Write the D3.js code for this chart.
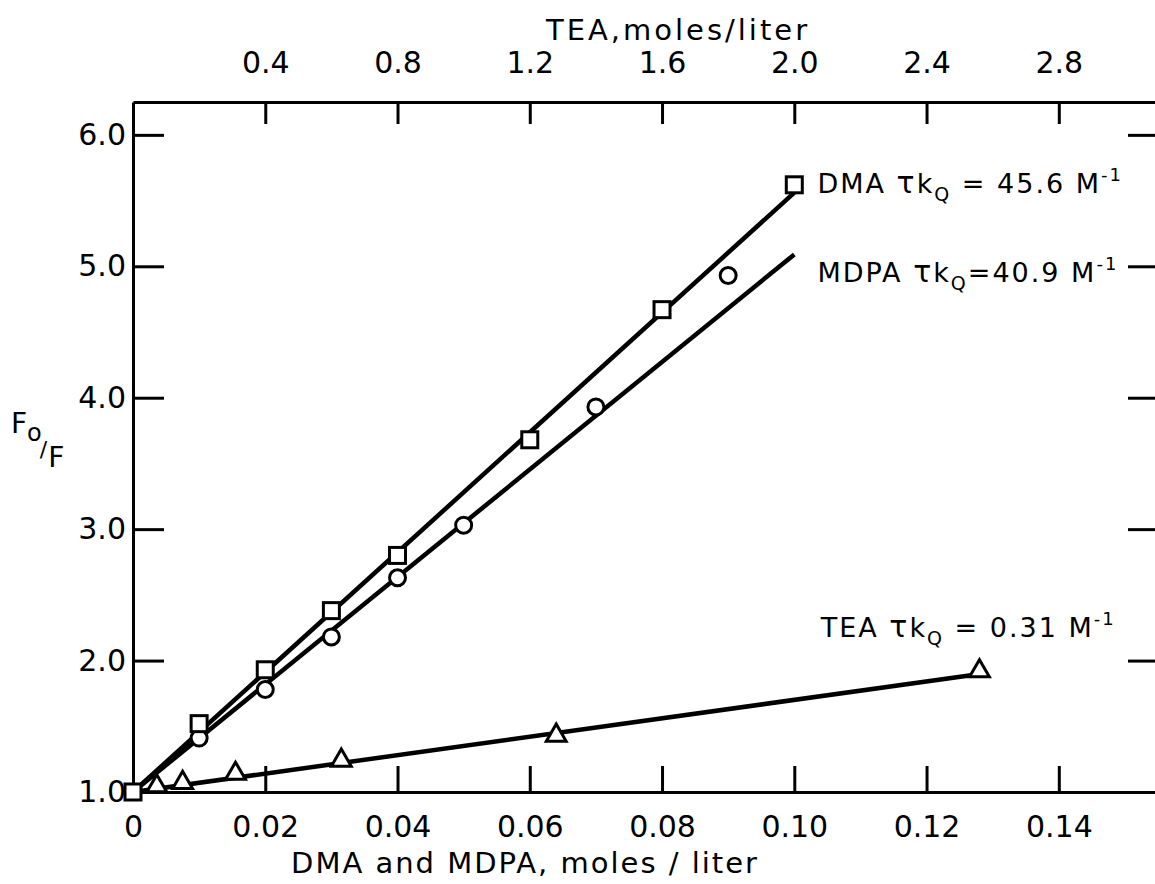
<!DOCTYPE html>
<html>
<head>
<meta charset="utf-8">
<script src="https://cdn.jsdelivr.net/npm/d3@7"></script>
<style>
  body { margin: 0; background: #fff; }
  svg { display: block; font-family: "DejaVu Sans", sans-serif; }
</style>
</head>
<body>
<svg width="1155" height="884"></svg>
<script>
// values
let dmaX = [0, 0.01, 0.02, 0.03, 0.04, 0.06, 0.08, 0.10];
let dmaY = [1.0, 1.52, 1.93, 2.38, 2.80, 3.68, 4.67, 5.62];
let mdpaX = [0.01, 0.02, 0.03, 0.04, 0.05, 0.07, 0.09];
let mdpaY = [1.41, 1.78, 2.18, 2.63, 3.03, 3.93, 4.93];
let teaX = [0.072, 0.15, 0.31, 0.63, 1.28, 2.56]; // TEA, moles/liter (top scale)
let teaY = [1.045, 1.07, 1.14, 1.24, 1.43, 1.92];

// fitted lines: [x0, y0, x1, y1]
let dmaFit = [0, 1.0, 0.10, 5.56];
let mdpaFit = [0, 1.0, 0.10, 5.09];
let teaFit = [0, 1.0, 2.54, 1.89];

let bottomTicks = [0, 0.02, 0.04, 0.06, 0.08, 0.10, 0.12, 0.14];
let topTicks = [0.4, 0.8, 1.2, 1.6, 2.0, 2.4, 2.8];
let yTicks = [1, 2, 3, 4, 5, 6];

let svg = d3.select("svg");

let x = d3.scaleLinear().domain([0, 0.155]).range([133, 1158]);
let xTop = d3.scaleLinear().domain([0, 3.1]).range([133, 1158]);
let y = d3.scaleLinear().domain([1, 6.25]).range([792, 102]);

// axes
svg.append("g")
  .attr("transform", `translate(0,${y(1)})`)
  .call(d3.axisBottom(x).tickValues(bottomTicks)
    .tickFormat((d) => (d === 0 ? "0" : d3.format(".2f")(d)))
    .tickSizeInner(-26).tickSizeOuter(0).tickPadding(24));

svg.append("g")
  .attr("transform", `translate(${x(0)},0)`)
  .call(d3.axisLeft(y).tickValues(yTicks).tickFormat(d3.format(".1f"))
    .tickSizeInner(-31).tickSizeOuter(0).tickPadding(7));

svg.append("g")
  .attr("transform", `translate(0,${y(6.25)})`)
  .call(d3.axisTop(xTop).tickValues(topTicks).tickFormat(d3.format(".1f"))
    .tickSizeInner(-22).tickSizeOuter(0).tickPadding(29));

svg.append("g")
  .attr("transform", `translate(${x(0.155)},0)`)
  .call(d3.axisRight(y).tickValues(yTicks.slice(1)).tickFormat("")
    .tickSizeInner(-30).tickSizeOuter(0));

svg.selectAll(".domain, .tick line")
  .attr("stroke", "#000").attr("stroke-width", 3);
svg.selectAll(".tick text")
  .attr("font-size", 30).attr("font-family", "DejaVu Sans").attr("fill", "#000");

// axis titles
svg.append("text")
  .attr("x", 525).attr("y", 873)
  .attr("text-anchor", "middle").attr("font-size", 29)
  .attr("letter-spacing", 2)
  .text("DMA and MDPA, moles / liter");

svg.append("text")
  .attr("x", 678).attr("y", 40)
  .attr("text-anchor", "middle").attr("font-size", 29)
  .attr("letter-spacing", 3)
  .text("TEA,moles/liter");

let ylab = svg.append("text").attr("x", 11).attr("y", 433).attr("font-size", 28);
ylab.append("tspan").text("F");
ylab.append("tspan").attr("font-size", 24).attr("dy", 8).text("o");
ylab.append("tspan").attr("font-size", 22).attr("dx", -2).attr("dy", 16).text("/");
ylab.append("tspan").attr("font-size", 28).attr("dx", 1).attr("dy", 10).text("F");

// fit lines
function fitLine(f, sx) {
  svg.append("line")
    .attr("x1", sx(f[0])).attr("y1", y(f[1]))
    .attr("x2", sx(f[2])).attr("y2", y(f[3]))
    .attr("stroke", "#000").attr("stroke-width", 4.5);
}
fitLine(dmaFit, x);
fitLine(mdpaFit, x);
fitLine(teaFit, xTop);

// markers
svg.append("g").selectAll("circle")
  .data(mdpaX.map((d, i) => [d, mdpaY[i]]))
  .enter().append("circle")
  .attr("cx", (d) => x(d[0])).attr("cy", (d) => y(d[1]))
  .attr("r", 8)
  .attr("fill", "#fff").attr("stroke", "#000").attr("stroke-width", 3);

svg.append("g").selectAll("rect")
  .data(dmaX.map((d, i) => [d, dmaY[i]]))
  .enter().append("rect")
  .attr("x", (d) => x(d[0]) - 8).attr("y", (d) => y(d[1]) - 8)
  .attr("width", 16).attr("height", 16)
  .attr("fill", "#fff").attr("stroke", "#000").attr("stroke-width", 3);

svg.append("g").selectAll("path")
  .data(teaX.map((d, i) => [d, teaY[i]]))
  .enter().append("path")
  .attr("d", d3.symbol(d3.symbolTriangle, 170))
  .attr("transform", (d) => `translate(${xTop(d[0])},${y(d[1])})`)
  .attr("fill", "#fff").attr("stroke", "#000").attr("stroke-width", 3);

// labels
function label(px, py, name, rest) {
  let t = svg.append("text").attr("x", px).attr("y", py)
    .attr("font-size", 27).attr("letter-spacing", 2);
  t.append("tspan").text(name + " ");
  t.append("tspan").attr("font-size", 30).text("τ");
  t.append("tspan").text("k");
  t.append("tspan").attr("font-size", 19).attr("dy", 8).text("Q");
  t.append("tspan").attr("dy", -8).text(rest);
  t.append("tspan").attr("font-size", 18).attr("dy", -12).text("-1");
}
label(x(0.1035), y(5.56), "DMA", " = 45.6 M");
label(x(0.1035), y(4.88), "MDPA", "=40.9 M");
label(x(0.1040), y(2.18), "TEA", " = 0.31 M");
</script>
</body>
</html>
